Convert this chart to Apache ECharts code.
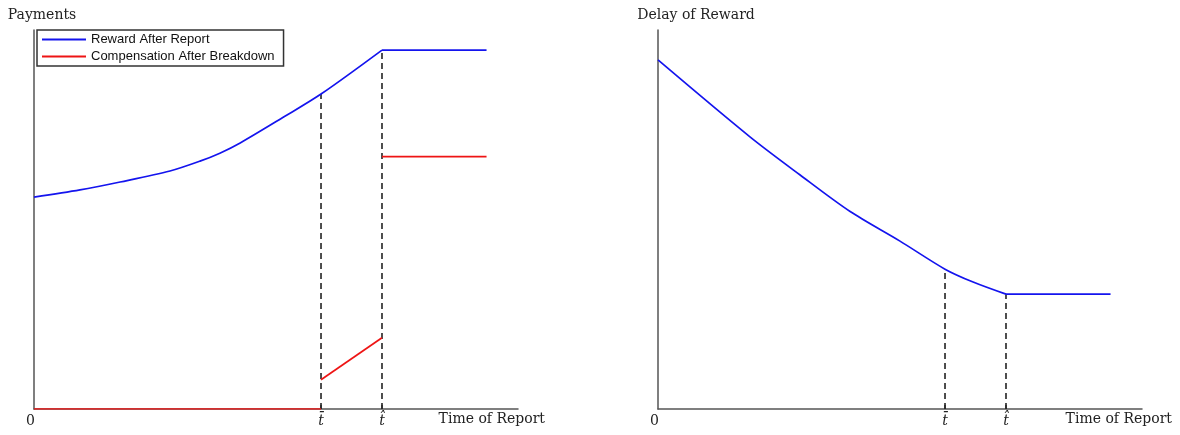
<!DOCTYPE html>
<html>
<head>
<meta charset="utf-8">
<script src="https://cdn.jsdelivr.net/npm/echarts@6/dist/echarts.min.js"></script>
<style>html,body{margin:0;padding:0;background:#fff;}#c{width:1180px;height:435px;}</style>
</head>
<body>
<div id="c"></div>
<script>
// ---- data ----
const tBar = 5.93, tHat = 7.19, tEnd = 9.35;
const tickValues = [0, tBar, tHat];
const tickLabels = ['0', 't\u0304', 't\u0302'];
const seriesNames = ['Reward After Report', 'Compensation After Breakdown'];
const axisTitles = { payments: 'Payments', delay: 'Delay of Reward', time: 'Time of Report' };

// left panel: payments
const rewardX = [0, 0.95, 1.78, 2.81, 3.43, 3.84, 4.26, 5.14, tBar, tHat];
const rewardY = [5.59, 5.78, 5.99, 6.28, 6.54, 6.75, 7.02, 7.69, 8.31, 9.47];
const rewardFlatX = [tHat, tEnd], rewardFlatY = [9.47, 9.47];
const compX1 = [0, tBar], compY1 = [0, 0];
const compX2 = [tBar, tHat], compY2 = [0.77, 1.88];
const compX3 = [tHat, tEnd], compY3 = [6.66, 6.66];
const payDashTop = [8.31, 9.47];   // dashed guides at tBar, tHat

// right panel: delay of reward
const delayX = [0, 1.90, 2.93, 3.97, 5.00, tBar, 6.51, tHat];
const delayY = [9.21, 7.18, 6.18, 5.21, 4.43, 3.69, 3.35, 3.03];
const delayFlatX = [tHat, tEnd], delayFlatY = [3.03, 3.03];
const delayDashTop = [3.69, 3.03];

// ---- helpers ----
const zip = (xs, ys) => xs.map((x, i) => [x, ys[i]]);
const serif = 'DejaVu Serif';
const BLUE = '#1414ee', RED = '#ee1414';

function xAxis(gi, nameGap) {
  return {
    type: 'value', gridIndex: gi, min: 0, max: 10,
    name: axisTitles.time, nameLocation: 'end', nameGap: nameGap,
    nameTextStyle: { fontFamily: serif, fontSize: 14, color: '#222', align: 'right', verticalAlign: 'top', padding: [3, 0, 0, 0] },
    axisLine: { show: true, onZero: false, lineStyle: { color: '#555', width: 1.5 } },
    splitLine: { show: false },
    axisTick: { show: true, inside: true, length: 4, customValues: [tBar, tHat], lineStyle: { color: '#333', width: 1.5 } },
    axisLabel: {
      show: true, customValues: tickValues, margin: 5,
      fontFamily: serif, fontSize: 14, color: '#222',
      formatter: v => {
        const i = tickValues.findIndex(t => Math.abs(t - v) < 1e-6);
        if (i === 0) return '{z|' + tickLabels[0] + '}';
        return '{t|' + (i > 0 ? tickLabels[i] : '') + '}';
      },
      rich: {
        z: { fontFamily: serif, fontSize: 14, color: '#222', padding: [0, 7, 0, 0] },
        t: { fontFamily: serif, fontSize: 14, fontStyle: 'italic', color: '#222' }
      }
    }
  };
}
function yAxis(gi, name, pad) {
  return {
    type: 'value', gridIndex: gi, min: 0, max: 10,
    name: name, nameLocation: 'end', nameGap: 8,
    nameTextStyle: { fontFamily: serif, fontSize: 14, color: '#222', align: 'center', verticalAlign: 'bottom', padding: pad },
    axisLine: { show: true, onZero: false, lineStyle: { color: '#555', width: 1.5 } },
    axisTick: { show: false }, axisLabel: { show: false }, splitLine: { show: false }
  };
}
function line(name, data, color, xi, smooth) {
  return {
    type: 'line', name: name, xAxisIndex: xi, yAxisIndex: xi, data: data,
    symbol: 'none', z: 5, smooth: smooth || false,
    lineStyle: { color: color, width: 1.7 }, itemStyle: { color: color },
    animation: false, silent: true
  };
}
function dash(x, top, xi) {
  return {
    type: 'line', xAxisIndex: xi, yAxisIndex: xi, data: [[x, 0], [x, top]],
    symbol: 'none', z: 4, lineStyle: { color: '#222', width: 1.6, type: [6, 4] },
    animation: false, silent: true
  };
}

const option = {
  backgroundColor: '#fff',
  animation: false,
  grid: [
    { left: 34, width: 484, top: 30, bottom: 26 },
    { left: 658, width: 484, top: 30, bottom: 26 }
  ],
  legend: {
    data: seriesNames, orient: 'vertical', left: 37, top: 30,
    icon: 'path://M0 0H100V4H0Z',
    padding: [3, 9, 3, 5], itemGap: 4, itemWidth: 44, itemHeight: 14,
    borderColor: '#333', borderWidth: 1.5, borderRadius: 0,
    textStyle: { fontFamily: 'Liberation Sans', fontSize: 13, color: '#111' },
    selectedMode: false
  },
  xAxis: [xAxis(0, 27), xAxis(1, 30)],
  yAxis: [yAxis(0, axisTitles.payments, [0, 0, 0, 16]), yAxis(1, axisTitles.delay, [0, 0, 0, 76])],
  series: [
    dash(tBar, payDashTop[0], 0),
    dash(tHat, payDashTop[1], 0),
    line(seriesNames[0], zip(rewardX, rewardY), BLUE, 0, 0.3),
    line(seriesNames[0], zip(rewardFlatX, rewardFlatY), BLUE, 0),
    line(seriesNames[1], zip(compX1, compY1), RED, 0),
    line(seriesNames[1], zip(compX2, compY2), RED, 0),
    line(seriesNames[1], zip(compX3, compY3), RED, 0),
    dash(tBar, delayDashTop[0], 1),
    dash(tHat, delayDashTop[1], 1),
    line('delay', zip(delayX, delayY), BLUE, 1, 0.3),
    line('delay', zip(delayFlatX, delayFlatY), BLUE, 1)
  ]
};
const chart = echarts.init(document.getElementById('c'), null, { renderer: 'canvas' });
chart.setOption(option);
</script>
</body>
</html>
